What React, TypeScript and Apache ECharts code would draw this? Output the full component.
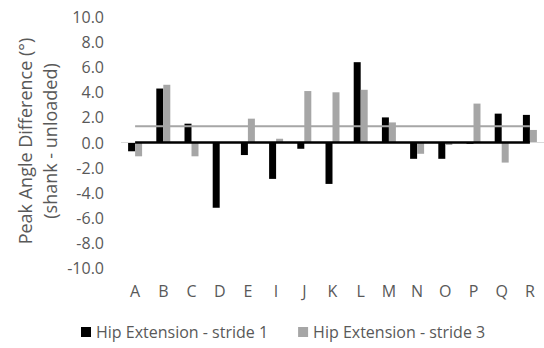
import React, { useEffect, useRef } from "react";
import * as echarts from "echarts";

const categories = ["A", "B", "C", "D", "E", "I", "J", "K", "L", "M", "N", "O", "P", "Q", "R"];
const stride1 = [-0.7, 4.3, 1.5, -5.2, -1.0, -2.9, -0.5, -3.3, 6.4, 2.0, -1.3, -1.3, -0.1, 2.3, 2.2];
const stride3 = [-1.1, 4.6, -1.1, 0.0, 1.9, 0.3, 4.1, 4.0, 4.2, 1.6, -0.9, -0.2, 3.1, -1.6, 1.0];
const zeroLine = [0, 0, 0, 0, 0, 0, 0, 0, 0, 0, 0, 0, 0, 0, 0];
const meanLine = [1.3, 1.3, 1.3, 1.3, 1.3, 1.3, 1.3, 1.3, 1.3, 1.3, 1.3, 1.3, 1.3, 1.3, 1.3];
const seriesNames = ["Hip Extension - stride 1", "Hip Extension - stride 3"];
const yTitle = ["Peak Angle Difference (°)", "(shank - unloaded)"];

const FONT = '"Open Sans", "Liberation Sans", sans-serif';
const TEXT = "#595959";

export default function App() {
  const ref = useRef<HTMLDivElement>(null);
  useEffect(() => {
    if (!ref.current) return;
    const chart = echarts.init(ref.current, null, { renderer: "svg" });
    chart.setOption({
      animation: false,
      textStyle: { fontFamily: FONT },
      grid: { left: 121, top: 17, width: 429, bottom: 80, containLabel: false },
      legend: {
        data: seriesNames,
        left: 81,
        top: 324,
        padding: 0,
        icon: "rect",
        itemWidth: 10,
        itemHeight: 10,
        itemGap: 30,
        textStyle: { fontSize: 16, color: TEXT, fontFamily: FONT },
      },
      graphic: [
        {
          type: "text",
          x: 25,
          y: 141,
          rotation: Math.PI / 2,
          style: { text: yTitle[0], fontSize: 18, fontFamily: FONT, fill: TEXT, align: "center", verticalAlign: "middle" },
        },
        {
          type: "text",
          x: 50,
          y: 141,
          rotation: Math.PI / 2,
          style: { text: yTitle[1], fontSize: 18, fontFamily: FONT, fill: TEXT, align: "center", verticalAlign: "middle" },
        },
      ],
      xAxis: {
        type: "category",
        data: categories,
        axisLine: { show: false, onZero: false },
        axisTick: { show: false },
        axisLabel: { color: TEXT, fontSize: 16, margin: 15, fontFamily: FONT },
      },
      yAxis: {
        type: "value",
        min: -10,
        max: 10,
        interval: 2,
        axisLine: { show: false },
        axisTick: { show: false },
        splitLine: { show: false },
        axisLabel: {
          color: TEXT,
          fontSize: 16,
          margin: 17,
          fontFamily: FONT,
          formatter: (v: number) => v.toFixed(1),
        },
      },
      series: [
        {
          name: seriesNames[0],
          type: "bar",
          data: stride1,
          barWidth: 7,
          barGap: "0%",
          itemStyle: { color: "#000000" },
          markLine: {
            silent: true,
            symbol: "none",
            label: { show: false },
            lineStyle: { color: "#d9d9d9", width: 1, type: "solid" },
            data: [{ yAxis: 0 }],
          },
        },
        {
          name: seriesNames[1],
          type: "bar",
          data: stride3,
          barWidth: 7,
          barGap: "0%",
          itemStyle: { color: "#a6a6a6" },
        },
        {
          name: "zero",
          type: "line",
          data: zeroLine,
          symbol: "none",
          lineStyle: { color: "#000000", width: 2.5 },
          z: 5,
        },
        {
          name: "mean",
          type: "line",
          data: meanLine,
          symbol: "none",
          lineStyle: { color: "#a6a6a6", width: 2 },
          z: 5,
        },
      ],
    });
    return () => chart.dispose();
  }, []);
  return <div ref={ref} style={{ position: "fixed", left: 0, top: 0, width: 544, height: 348, background: "#fff" }} />;
}
